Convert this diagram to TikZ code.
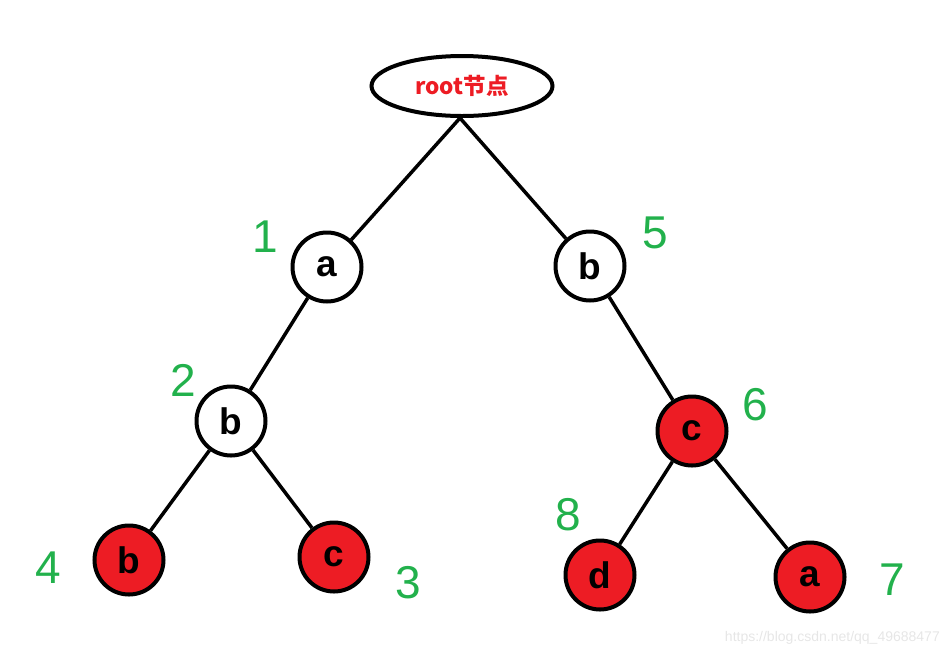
\documentclass[tikz,border=0pt]{standalone}
\usepackage{fontspec}
\setmainfont{Liberation Sans}
\newfontfamily\cjkfont{Noto Sans CJK SC}
\usetikzlibrary{shapes.geometric}
\definecolor{pred}{HTML}{ED1C24}
\definecolor{pgreen}{HTML}{22B14C}
\definecolor{wm}{HTML}{E6E6E6}
\tikzset{
  tnode/.style={circle, draw=black, line width=4pt, minimum size=69pt, inner sep=0pt,
    font=\fontsize{37}{37}\selectfont\bfseries, text=black},
  whitenode/.style={tnode, fill=white},
  rednode/.style={tnode, fill=pred},
  edge/.style={line width=3.5pt, black},
  numlabel/.style={text=pgreen, font=\fontsize{46}{46}\selectfont, inner sep=0pt}
}
\begin{document}
\begin{tikzpicture}[x=1pt, y=-1pt]
\useasboundingbox (0,0) rectangle (950,657);
% root
\node[ellipse, draw=black, line width=4pt, minimum width=181pt, minimum height=60pt, inner sep=0pt,
  font=\cjkfont\fontsize{22.5}{22.5}\selectfont\bfseries, text=pred] (root) at (462,86) {root节点};
% tree nodes
\node[whitenode] (a1) at (327,267) {a};
\node[whitenode] (b1) at (590,266) {b};
\node[whitenode] (b2) at (231,421) {b};
\node[rednode] (c1) at (692,431) {c};
\node[rednode] (b3) at (129,560) {b};
\node[rednode] (c2) at (334,557) {c};
\node[rednode] (d1) at (600,575) {d};
\node[rednode] (a2) at (810,577) {a};
% edges
\coordinate (rb) at (460,118);
\draw[edge] (rb) -- (a1);
\draw[edge] (rb) -- (b1);
\draw[edge] (a1) -- (b2);
\draw[edge] (b2) -- (b3);
\draw[edge] (b2) -- (c2);
\draw[edge] (b1) -- (c1);
\draw[edge] (c1) -- (d1);
\draw[edge] (c1) -- (a2);
% green order numbers
\node[numlabel] (n1) at (265,237) {1};
\node[numlabel] (n5) at (655,233) {5};
\node[numlabel] (n2) at (183,380) {2};
\node[numlabel] (n6) at (755,405) {6};
\node[numlabel] (n8) at (568,515) {8};
\node[numlabel] (n4) at (48,568) {4};
\node[numlabel] (n3) at (408,583) {3};
\node[numlabel] (n7) at (892,580) {7};
% watermark
\node[text=wm, font=\fontsize{14}{14}\selectfont, anchor=east, inner sep=0pt] (wmk) at (940,638) {https://blog.csdn.net/qq\_49688477};
\end{tikzpicture}
\end{document}
